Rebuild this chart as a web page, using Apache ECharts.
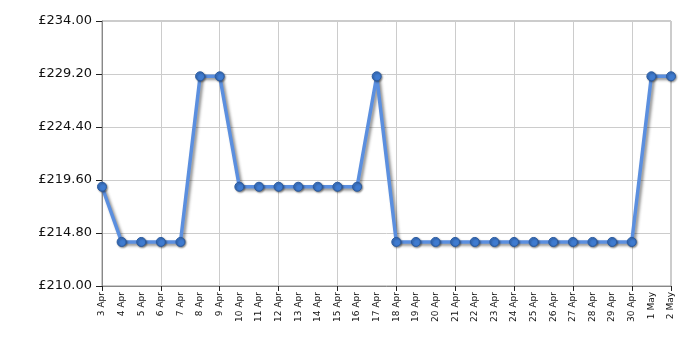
<!DOCTYPE html>
<html>
<head>
<meta charset="utf-8">
<script src="https://cdn.jsdelivr.net/npm/echarts@6/dist/echarts.min.js"></script>
<style>
  html, body { margin: 0; padding: 0; background: #fff; }
  #chart { width: 700px; height: 350px; }
</style>
</head>
<body>
<div id="chart"></div>
<script>
const days = ['3 Apr', '4 Apr', '5 Apr', '6 Apr', '7 Apr', '8 Apr', '9 Apr', '10 Apr', '11 Apr', '12 Apr',
  '13 Apr', '14 Apr', '15 Apr', '16 Apr', '17 Apr', '18 Apr', '19 Apr', '20 Apr', '21 Apr', '22 Apr',
  '23 Apr', '24 Apr', '25 Apr', '26 Apr', '27 Apr', '28 Apr', '29 Apr', '30 Apr', '1 May', '2 May'];
const prices = [218.99, 213.99, 213.99, 213.99, 213.99, 228.99, 228.99, 218.99, 218.99, 218.99,
  218.99, 218.99, 218.99, 218.99, 228.99, 213.99, 213.99, 213.99, 213.99, 213.99,
  213.99, 213.99, 213.99, 213.99, 213.99, 213.99, 213.99, 213.99, 228.99, 228.99];
const yMin = 210, yMax = 234, yStep = 4.8;

const myChart = echarts.init(document.getElementById('chart'));
const option = {
  animation: false,
  grid: { left: 102, right: 29, top: 21, bottom: 64, show: true, borderColor: '#999', borderWidth: 1 },
  xAxis: {
    type: 'category',
    data: days,
    boundaryGap: false,
    axisLine: { lineStyle: { color: '#888' } },
    axisTick: { show: true, interval: 2, length: 5, lineStyle: { color: '#222' } },
    splitLine: { show: true, interval: 2, lineStyle: { color: '#ccc' } },
    axisLabel: {
      interval: 0, rotate: 90, color: '#111', fontSize: 9,
      fontFamily: 'DejaVu Sans', margin: 6
    }
  },
  yAxis: {
    type: 'value',
    min: yMin, max: yMax, interval: yStep,
    axisLine: { show: true, lineStyle: { color: '#888' } },
    axisTick: { show: true, length: 6, lineStyle: { color: '#222' } },
    splitLine: { lineStyle: { color: '#ccc' } },
    axisLabel: {
      color: '#111', fontSize: 13, fontFamily: 'DejaVu Sans', margin: 10,
      formatter: v => '£' + v.toFixed(2)
    }
  },
  series: [{
    type: 'line',
    data: prices,
    symbol: 'circle',
    symbolSize: 9,
    lineStyle: {
      color: '#5b8fdf', width: 3.5,
      shadowColor: 'rgba(0,0,0,0.45)', shadowBlur: 3, shadowOffsetX: 2, shadowOffsetY: 2
    },
    itemStyle: {
      color: '#3f7bd0', borderColor: '#2a5a9f', borderWidth: 1,
      shadowColor: 'rgba(0,0,0,0.4)', shadowBlur: 2, shadowOffsetX: 1, shadowOffsetY: 1
    }
  }]
};
myChart.setOption(option);
</script>
</body>
</html>
